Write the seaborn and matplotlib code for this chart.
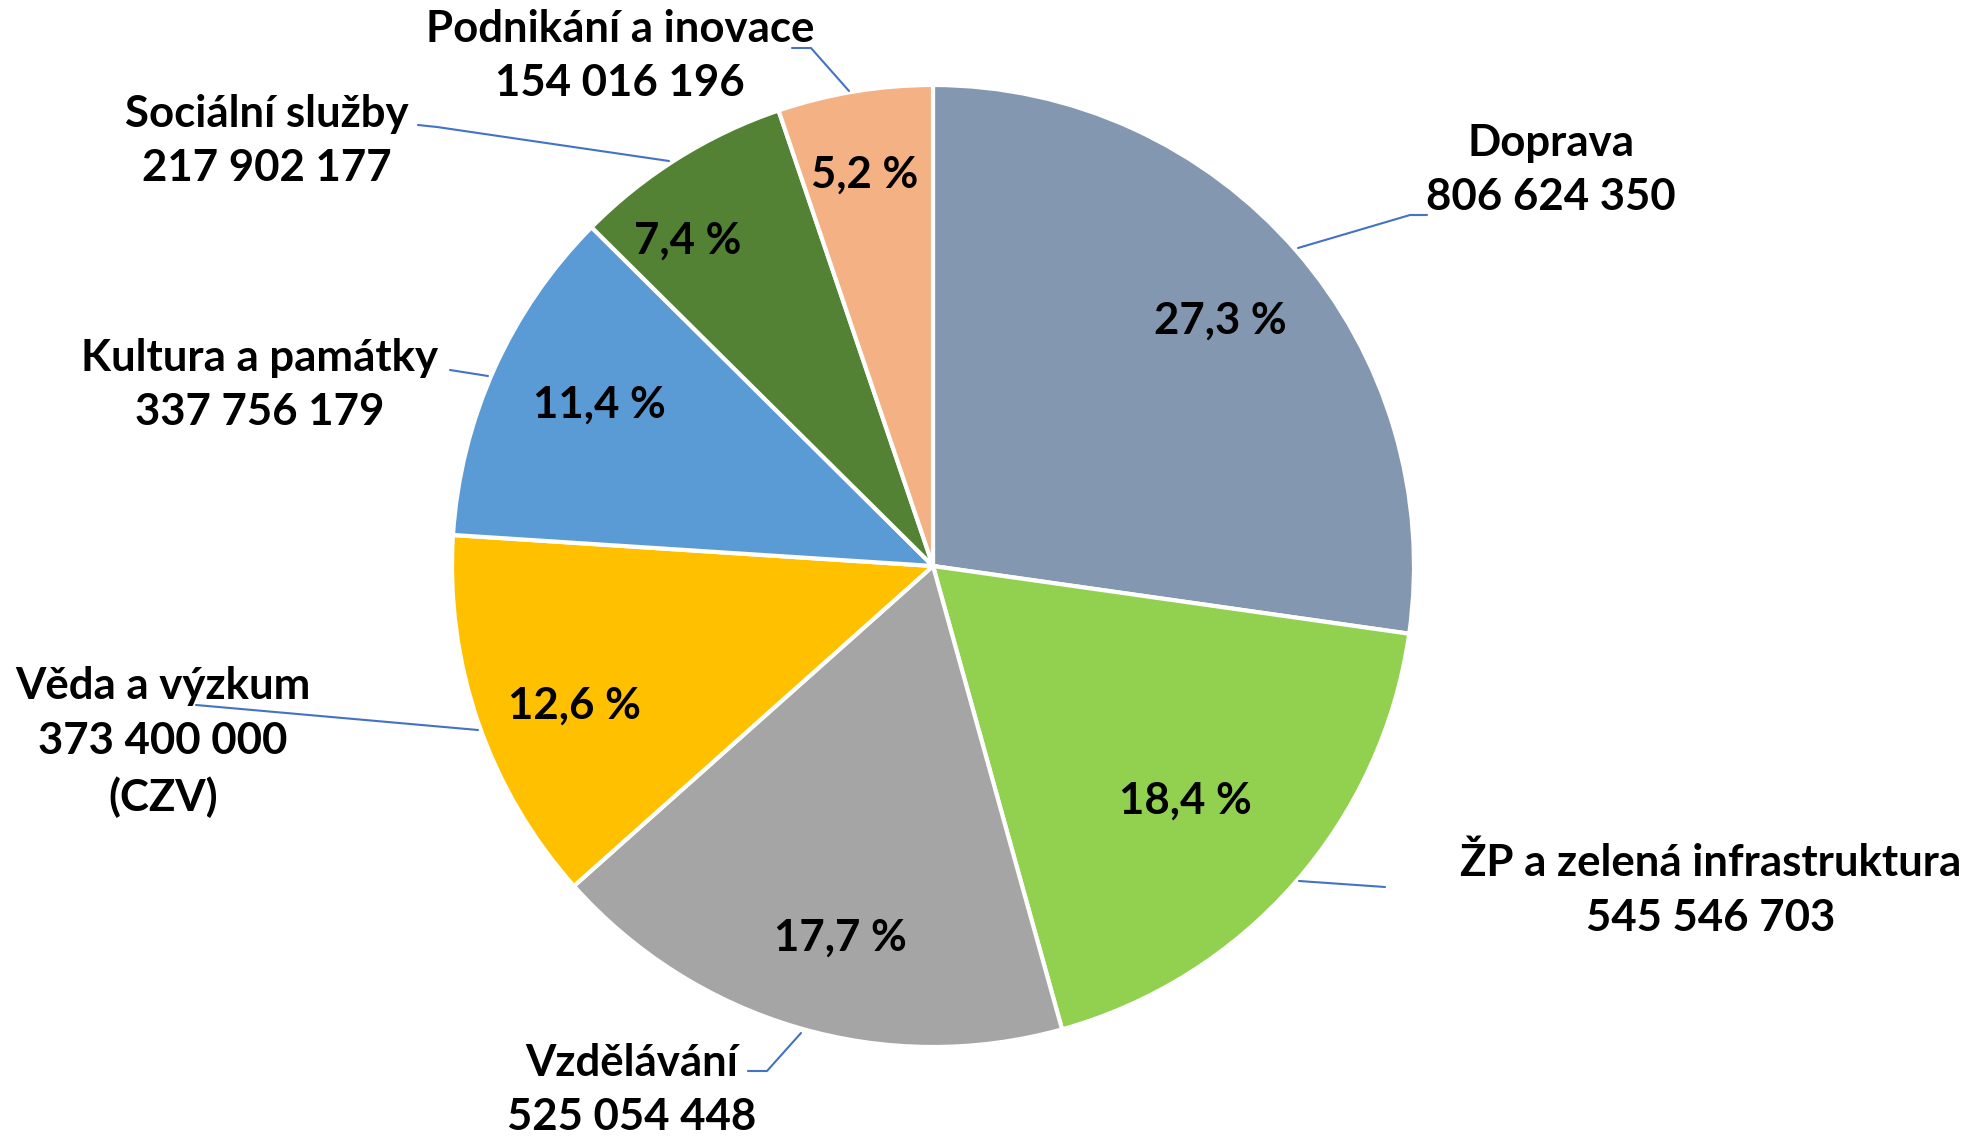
#pie chart: allocation by sector
import matplotlib
matplotlib.use("Agg")
import matplotlib.pyplot as plt
import seaborn as sns

#data
sectors = ['Doprava', 'ŽP a zelená infrastruktura', 'Vzdělávání', 'Věda a výzkum',
           'Kultura a památky', 'Sociální služby', 'Podnikání a inovace']
amounts = [806624350, 545546703, 525054448, 373400000, 337756179, 217902177, 154016196]
notes = ['', '', '', '(CZV)', '', '', '']
pct_labels = ['27,3 %', '18,4 %', '17,7 %', '12,6 %', '11,4 %', '7,4 %', '5,2 %']
colors = ['#8497B0', '#92D050', '#A5A5A5', '#FFC000', '#5B9BD5', '#548235', '#F4B183']

#layout (pixels from top-left)
W, H = 1987, 1141
center = (933, 566)
radius = 481
label_pos = [(1551, 170), (1711, 890), (632, 1090), (163, 742), (260, 385), (267, 141), (620, 56)]
pct_pos = [(1220, 321), (1185, 801), (840, 938), (574, 706), (599, 405), (688, 241), (865, 175)]
leaders = [
    [(1298, 248), (1410, 215), (1427, 215)],
    [(1299, 881), (1385, 887)],
    [(801, 1033), (767, 1071), (748, 1071)],
    [(196, 705), (478, 730)],
    [(450, 370), (488, 376)],
    [(418, 125), (437, 127), (669, 161)],
    [(792, 48), (811, 48), (849, 91)],
]

sns.set_theme(style="white")
plt.rcParams['font.family'] = ['Lato', 'DejaVu Sans']

fig = plt.figure(figsize=(W / 100, H / 100), dpi=100)
ax = fig.add_axes([0, 0, 1, 1])

def fy(y):
    return H - y

ax.pie(amounts, colors=colors, startangle=90, counterclock=False,
       center=(center[0], fy(center[1])), radius=radius,
       wedgeprops=dict(edgecolor='white', linewidth=3))
ax.set_xlim(0, W)
ax.set_ylim(0, H)
ax.set_aspect('equal')
ax.axis('off')

for i, name in enumerate(sectors):
    amount_txt = f"{amounts[i]:,}".replace(",", " ")
    txt = name + "\n" + amount_txt
    if notes[i]:
        txt += "\n" + notes[i]
    lx, ly = label_pos[i]
    ax.text(lx, fy(ly), txt, ha='center', va='center', fontsize=31.5,
            fontweight='bold', color='black', linespacing=1.45)
    px, py = pct_pos[i]
    ax.text(px, fy(py), pct_labels[i], ha='center', va='center', fontsize=31.5,
            fontweight='bold', color='black')
    xs = [p[0] for p in leaders[i]]
    ys = [fy(p[1]) for p in leaders[i]]
    ax.plot(xs, ys, color='#4472C4', linewidth=1.5)

fig.savefig("out.png", dpi=100, facecolor='white')
